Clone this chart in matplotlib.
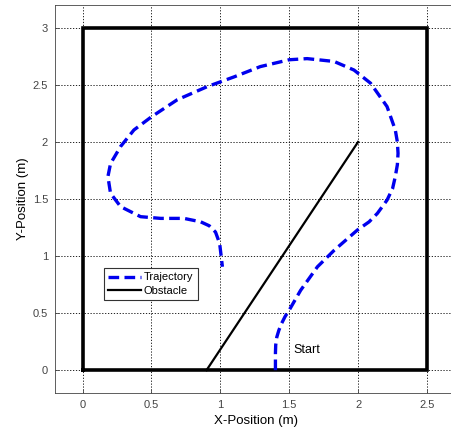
import matplotlib
matplotlib.use("Agg")
import matplotlib.pyplot as plt

plt.rcParams['font.family'] = ['Liberation Sans', 'DejaVu Sans']

traj_x = [1.40, 1.40, 1.402, 1.41, 1.425, 1.445, 1.47, 1.50, 1.583, 1.705, 1.826, 1.995, 2.08, 2.14, 2.21, 2.25, 2.27, 2.285, 2.29,
          2.285, 2.27, 2.21, 2.09, 1.97, 1.826, 1.63, 1.50, 1.29, 1.10, 0.906, 0.688, 0.50, 0.373,
          0.276, 0.203, 0.184, 0.203, 0.276, 0.421, 0.567, 0.736, 0.857, 0.92, 0.965, 0.995, 1.007, 1.015]
traj_y = [0.0, 0.15, 0.22, 0.29, 0.35, 0.41, 0.47, 0.526, 0.70, 0.906, 1.05, 1.228, 1.30, 1.374, 1.49, 1.59, 1.696, 1.80, 1.90,
          2.0, 2.105, 2.31, 2.515, 2.63, 2.705, 2.73, 2.72, 2.66, 2.57, 2.485, 2.37, 2.22, 2.105,
          1.96, 1.81, 1.696, 1.55, 1.433, 1.345, 1.330, 1.330, 1.30, 1.265, 1.21, 1.111, 0.99, 0.906]
obst_x = [0.9, 2.0]
obst_y = [0.0, 2.0]
box_x = [0, 2.5, 2.5, 0, 0]
box_y = [0, 0, 3, 3, 0]
xticks = [0, 0.5, 1, 1.5, 2, 2.5]
yticks = [0, 0.5, 1, 1.5, 2, 2.5, 3]

fig = plt.figure(figsize=(4.52, 4.33), dpi=100)
ax = fig.add_axes([0.1217, 0.0924, 0.89, 0.8961])

ax.plot(box_x, box_y, color='black', linewidth=2.6, solid_joinstyle='miter', zorder=3)
l1, = ax.plot(traj_x, traj_y, color='#0000ee', linewidth=2.4, linestyle=(0, (3.2, 1.6)), zorder=4,
              label='Trajectory')
l2, = ax.plot(obst_x, obst_y, color='black', linewidth=1.6, zorder=4, label='Obstacle')

ax.text(1.53, 0.175, 'Start', fontsize=9, va='center', ha='left')

ax.set_xlim(-0.2, 2.72)
ax.set_ylim(-0.2, 3.2)
ax.set_xticks(xticks)
ax.set_xticklabels(['0', '0.5', '1', '1.5', '2', '2.5'])
ax.set_yticks(yticks)
ax.set_yticklabels(['0', '0.5', '1', '1.5', '2', '2.5', '3'])
ax.grid(True, color='black', linestyle=(0, (1.5, 2)), linewidth=0.6)
ax.set_axisbelow(True)
ax.tick_params(direction='in', length=3, labelsize=8, colors='#444444', width=0.6, pad=5)
for s in ax.spines.values():
    s.set_linewidth(0.6)
    s.set_color('#444444')
ax.spines['right'].set_visible(False)

ax.set_xlabel('X-Position (m)', fontsize=9.5, labelpad=4)
ax.set_ylabel('Y-Position (m)', fontsize=9.5, labelpad=3)

leg = ax.legend(handles=[l1, l2], loc='upper left', bbox_to_anchor=(0.153, 0.895),
                bbox_transform=ax.transData, fontsize=8, frameon=True, fancybox=False,
                edgecolor='#333333', framealpha=1, handlelength=3.0, handletextpad=0.2,
                borderpad=0.4, labelspacing=0.3, borderaxespad=0)
leg.get_frame().set_linewidth(0.8)

fig.savefig('out.png', dpi=100)
